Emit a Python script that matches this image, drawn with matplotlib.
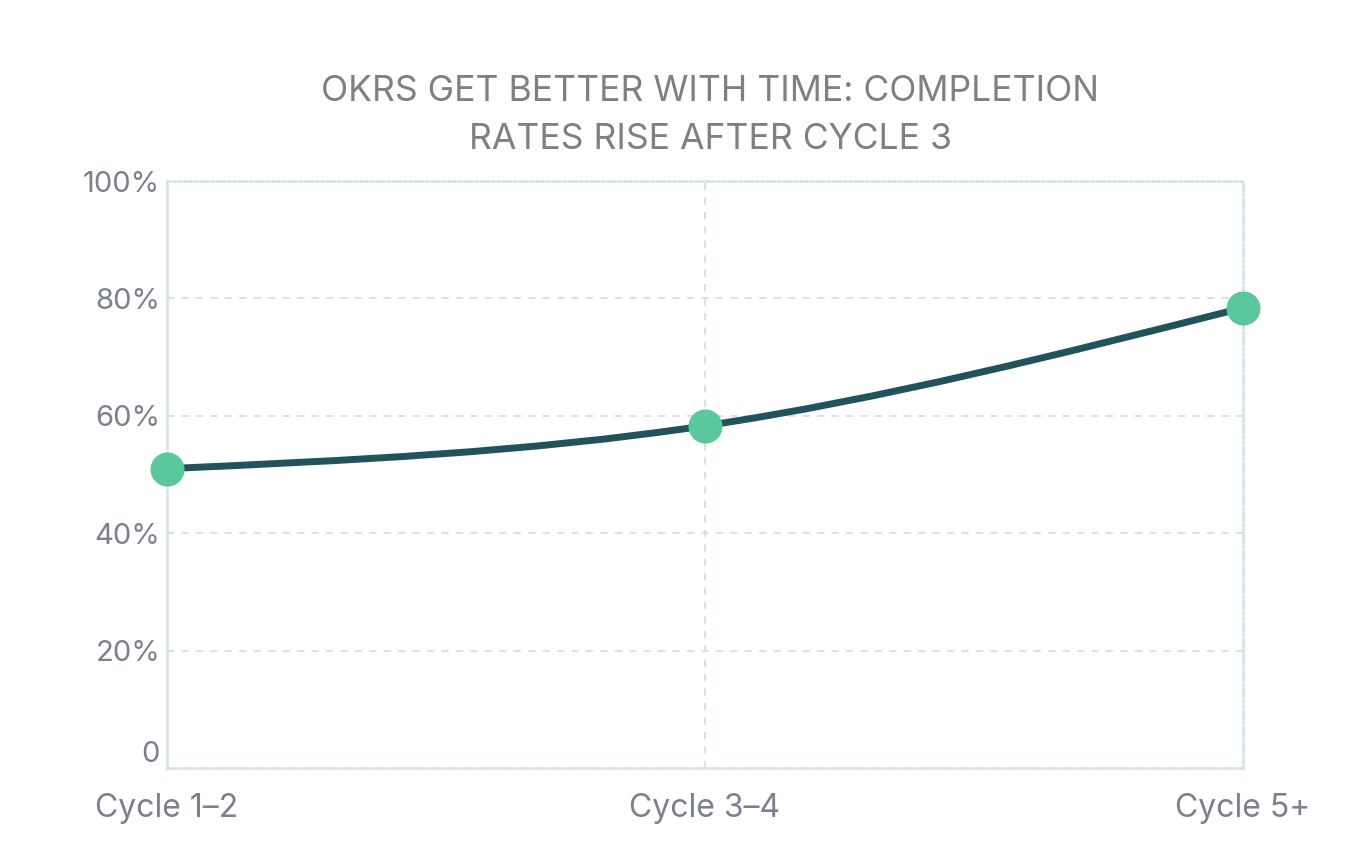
import matplotlib
matplotlib.use("Agg")
import matplotlib.pyplot as plt
import numpy as np
from matplotlib.path import Path
from matplotlib.patches import PathPatch

plt.rcParams['font.family'] = ['Inter', 'DejaVu Sans']

# data
cycles = ['Cycle 1\u20132', 'Cycle 3\u20134', 'Cycle 5+']
completion = [51, 58.3, 78.4]
y_ticks = [0, 20, 40, 60, 80, 100]
y_labels = ['0', '20%', '40%', '60%', '80%', '100%']
title = 'OKRS GET BETTER WITH TIME: COMPLETION\nRATES RISE AFTER CYCLE 3'

line_col = '#22535c'
dot_col = '#5bc79c'
grid_col = '#cfe1e7'
text_col = '#7b808d'


def monotone_path(xs, ys):
    # monotone cubic (like d3 curveMonotoneX), as bezier segments
    xs = np.asarray(xs, float)
    ys = np.asarray(ys, float)
    n = len(xs)
    h = np.diff(xs)
    s = np.diff(ys) / h
    t = np.zeros(n)
    for i in range(1, n - 1):
        p = (s[i - 1] * h[i] + s[i] * h[i - 1]) / (h[i - 1] + h[i])
        t[i] = (np.sign(s[i - 1]) + np.sign(s[i])) * min(abs(s[i - 1]), abs(s[i]), 0.5 * abs(p))
    t[0] = (3 * s[0] - t[1]) / 2
    t[-1] = (3 * s[-1] - t[-2]) / 2
    verts = [(xs[0], ys[0])]
    codes = [Path.MOVETO]
    for i in range(n - 1):
        dx = h[i] / 3
        verts += [(xs[i] + dx, ys[i] + dx * t[i]),
                  (xs[i + 1] - dx, ys[i + 1] - dx * t[i + 1]),
                  (xs[i + 1], ys[i + 1])]
        codes += [Path.CURVE4] * 3
    return Path(verts, codes)


fig = plt.figure(figsize=(13.54, 8.42), dpi=100)
ax = fig.add_axes([0.1233, 0.0879, 0.7947, 0.6971])

x = np.arange(len(cycles))
ax.set_xlim(0, len(cycles) - 1)
ax.set_ylim(0, 100)

# grid
for v in [20, 40, 60, 80]:
    ax.axhline(v, color=grid_col, lw=1.3, ls=(0, (4, 4)), zorder=1)
for xi in x[1:-1]:
    ax.axvline(xi, color=grid_col, lw=1.3, ls=(0, (4, 4)), zorder=1)
for sp in ax.spines.values():
    sp.set_color(grid_col)
    sp.set_linewidth(1.8)
    sp.set_linestyle((0, (1, 1.2)))

patch = PathPatch(monotone_path(x, completion), facecolor='none', edgecolor=line_col,
                  lw=5, capstyle='round', zorder=3)
ax.add_patch(patch)
ax.plot(x, completion, 'o', color=dot_col, ms=23.5, zorder=4, clip_on=False)

ax.set_xticks(x)
ax.set_xticklabels(cycles)
ax.set_yticks(y_ticks)
ax.set_yticklabels(y_labels)
ax.tick_params(axis='both', length=0, colors=text_col, labelsize=21)
ax.tick_params(axis='x', pad=18, labelsize=23)
ax.tick_params(axis='y', pad=5)
ax.get_yticklabels()[0].set_va('bottom')

fig.text(0.5245, 0.863, title, ha='center', va='center', fontsize=25.6,
         color='#808080', linespacing=1.55)

fig.savefig('out.png', dpi=100, facecolor='white')
